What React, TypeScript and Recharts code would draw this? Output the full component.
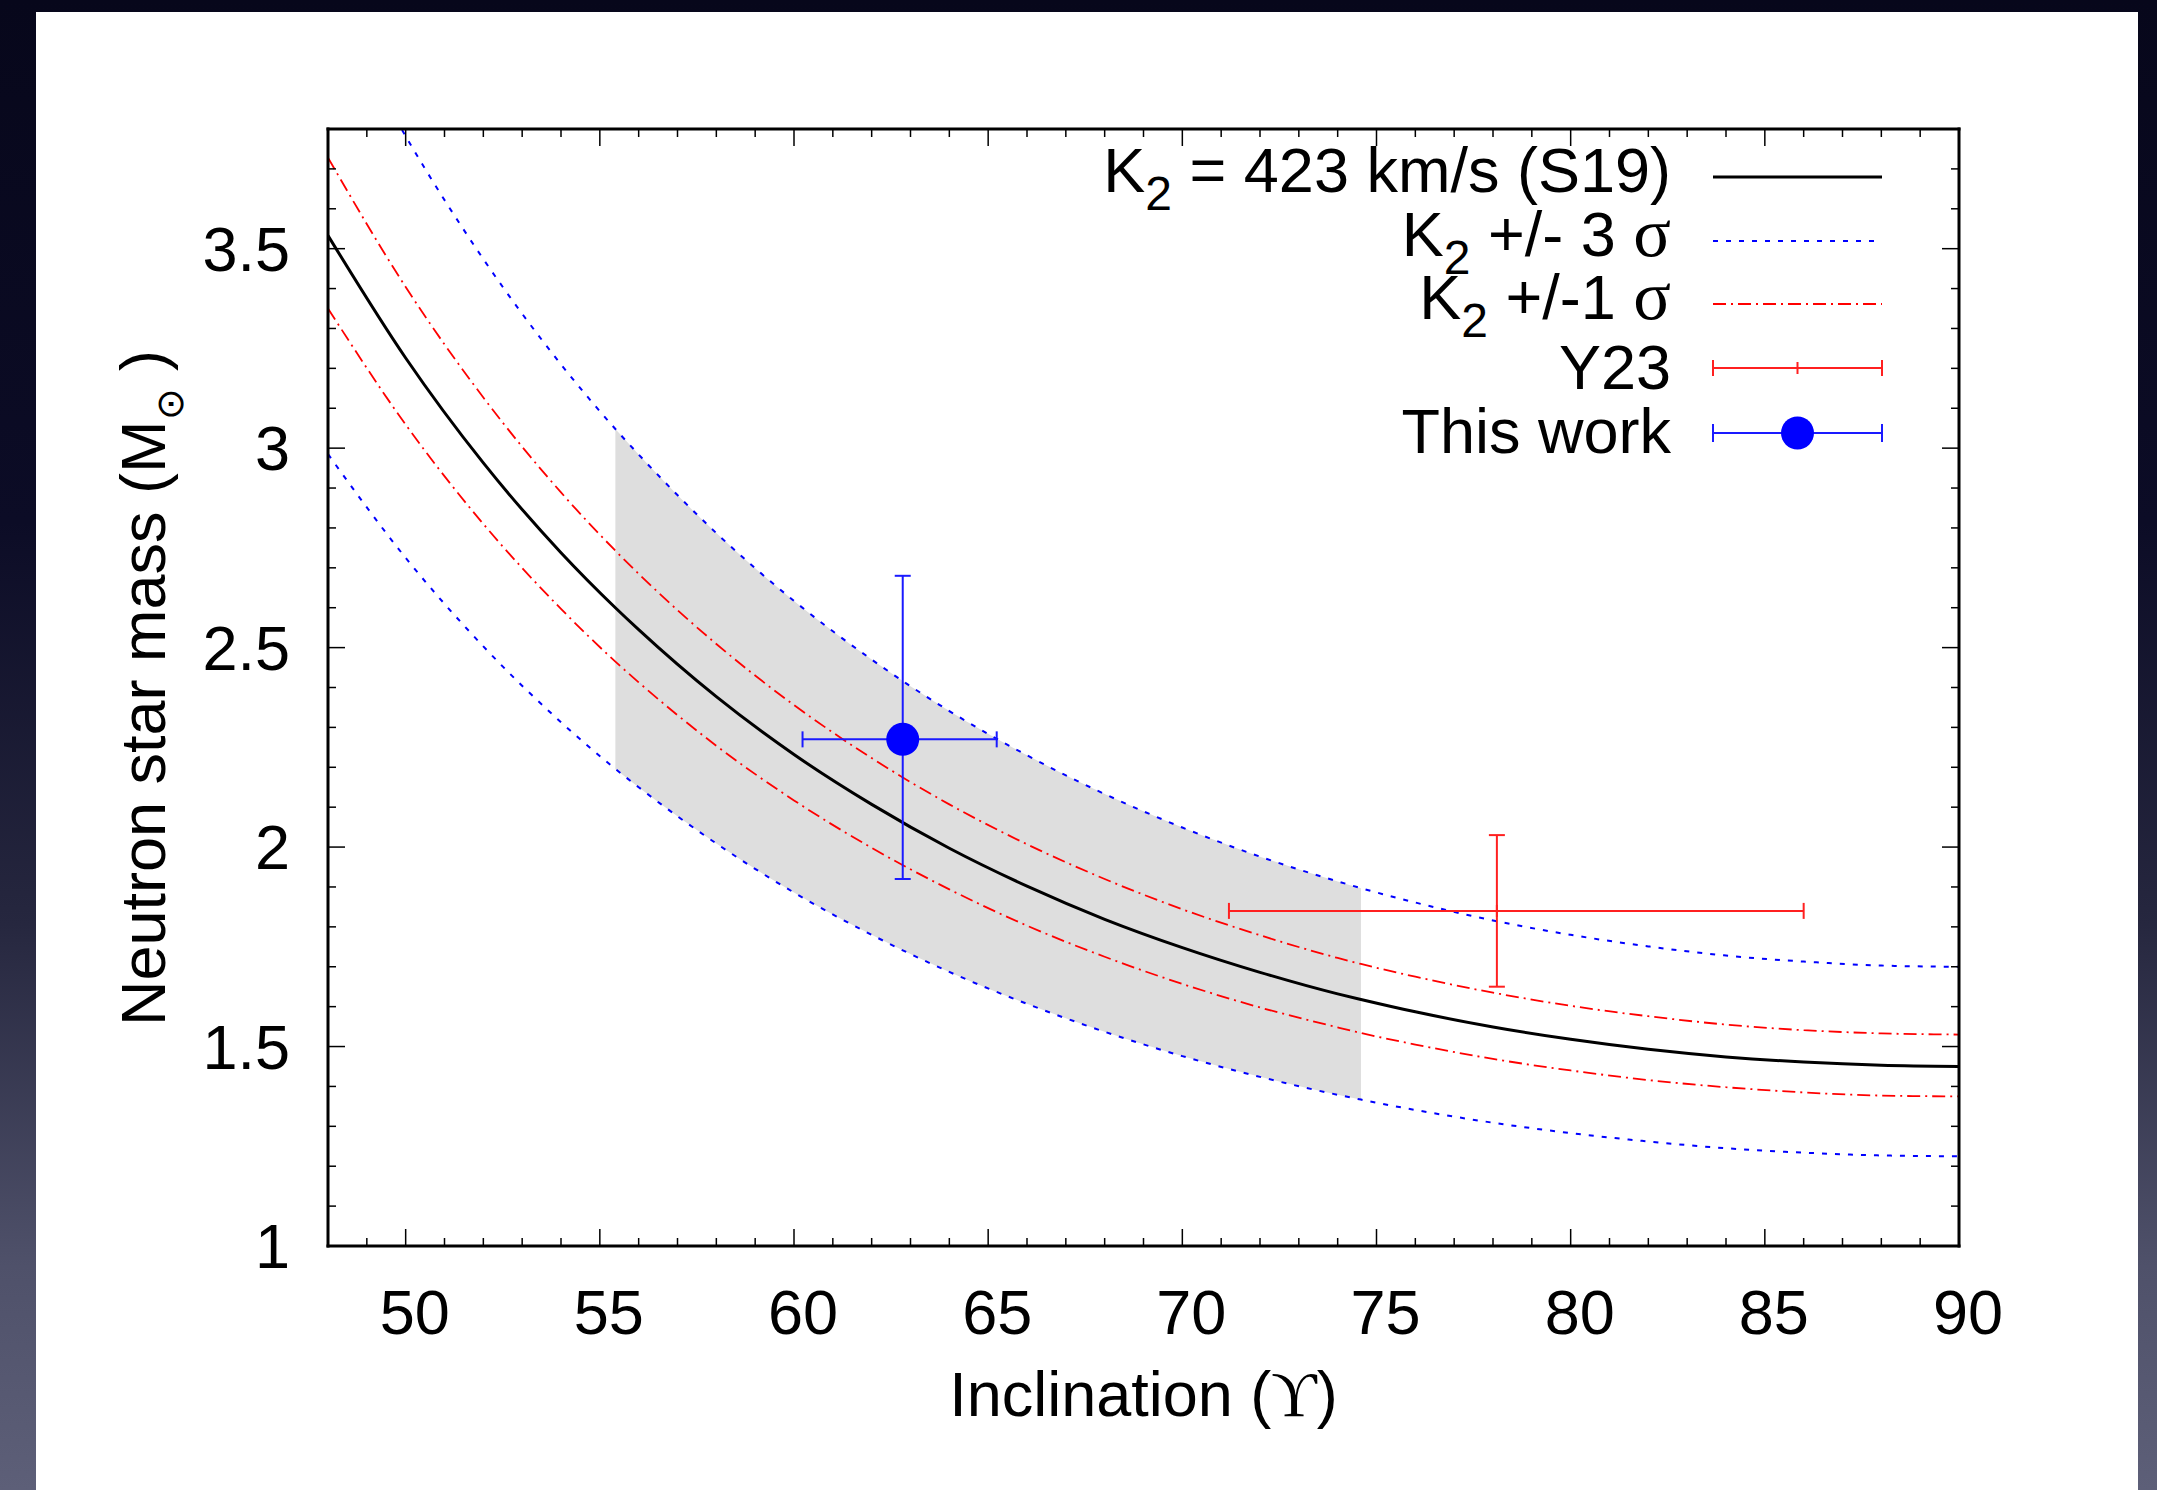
import React from 'react';
import { ComposedChart, Line, Area, Scatter, XAxis, YAxis, ErrorBar, Legend } from 'recharts';

const FONT = '"Liberation Sans", Arial, Helvetica, sans-serif';
const SERIF = '"Liberation Serif", "DejaVu Serif", serif';
const FS = 63;

// Inclination grid (degrees)
const INCLINATION = [48, 50, 52, 54, 55.4, 56, 58, 60, 62, 64, 66, 68, 70, 72, 74, 74.6, 76, 78, 80, 82, 84, 86, 88, 90];
// K2 = 423 km/s (S19)
const MASS_K2 = [3.533, 3.226, 2.963, 2.738, 2.6, 2.545, 2.377, 2.232, 2.107, 1.997, 1.902, 1.819, 1.748, 1.686, 1.632, 1.618, 1.587, 1.549, 1.518, 1.493, 1.474, 1.461, 1.453, 1.45];
// K2 + 3 sigma
const MASS_P3 = [4.142, 3.782, 3.474, 3.21, 3.048, 2.984, 2.787, 2.617, 2.47, 2.341, 2.23, 2.133, 2.049, 1.976, 1.914, 1.897, 1.861, 1.816, 1.78, 1.751, 1.728, 1.713, 1.703, 1.7];
// K2 + 1 sigma
const MASS_P1 = [3.728, 3.404, 3.127, 2.889, 2.743, 2.685, 2.509, 2.356, 2.223, 2.107, 2.007, 1.92, 1.844, 1.779, 1.722, 1.707, 1.675, 1.635, 1.602, 1.576, 1.555, 1.541, 1.533, 1.53];
// K2 - 1 sigma
const MASS_M1 = [3.35, 3.059, 2.81, 2.597, 2.465, 2.413, 2.254, 2.117, 1.998, 1.894, 1.803, 1.725, 1.657, 1.598, 1.548, 1.534, 1.505, 1.469, 1.44, 1.416, 1.398, 1.385, 1.377, 1.375];
// K2 - 3 sigma
const MASS_M3 = [2.985, 2.725, 2.503, 2.313, 2.196, 2.15, 2.009, 1.886, 1.78, 1.687, 1.607, 1.537, 1.476, 1.424, 1.379, 1.367, 1.341, 1.309, 1.283, 1.262, 1.245, 1.234, 1.227, 1.225];

// shaded inclination range
const BAND_FROM = 55.4;
const BAND_TO = 74.6;

// measurements with asymmetric errors [minus, plus]
const THIS_WORK = [{ inc: 62.8, mass: 2.27, incErr: [2.58, 2.42], massErr: [0.35, 0.41] }];
const Y23 = [{ inc: 78.1, mass: 1.84, incErr: [6.9, 7.9], massErr: [0.19, 0.19] }];

const X_TICKS = [48, 49, 50, 51, 52, 53, 54, 55, 56, 57, 58, 59, 60, 61, 62, 63, 64, 65, 66, 67, 68, 69, 70, 71, 72, 73, 74, 75, 76, 77, 78, 79, 80, 81, 82, 83, 84, 85, 86, 87, 88, 89, 90];
const X_LABELS = [50, 55, 60, 65, 70, 75, 80, 85, 90];
const Y_TICKS = [1, 1.1, 1.2, 1.3, 1.4, 1.5, 1.6, 1.7, 1.8, 1.9, 2, 2.1, 2.2, 2.3, 2.4, 2.5, 2.6, 2.7, 2.8, 2.9, 3, 3.1, 3.2, 3.3, 3.4, 3.5, 3.6, 3.7, 3.8];
const Y_LABELS = [1, 1.5, 2, 2.5, 3, 3.5];

const ROWS = INCLINATION.map((inc, i) => ({
  inc,
  k2: MASS_K2[i],
  p3: MASS_P3[i],
  p1: MASS_P1[i],
  m1: MASS_M1[i],
  m3: MASS_M3[i],
  band: inc >= BAND_FROM && inc <= BAND_TO ? [MASS_M3[i], MASS_P3[i]] : null,
}));

const isXMajor = (v: number) => X_LABELS.some((l) => Math.abs(l - v) < 1e-6);
const isYMajor = (v: number) => Y_LABELS.some((l) => Math.abs(l - v) < 1e-6);

const MAJ = 17;
const MIN = 8;
const TICK_W = 1.5;

const BottomTick = (props: any) => {
  const { x, y, payload } = props;
  const v = payload.value;
  const major = isXMajor(v);
  return (
    <g>
      <line x1={x} x2={x} y1={y} y2={y - (major ? MAJ : MIN)} stroke="#000" strokeWidth={TICK_W} />
      {major && (
        <text x={x + 9} y={y + 88} textAnchor="middle" fontFamily={FONT} fontSize={FS} fill="#000">
          {String(v)}
        </text>
      )}
    </g>
  );
};

const TopTick = (props: any) => {
  const { x, y, payload } = props;
  const major = isXMajor(payload.value);
  return <line x1={x} x2={x} y1={y} y2={y + (major ? MAJ : MIN)} stroke="#000" strokeWidth={TICK_W} />;
};

const LeftTick = (props: any) => {
  const { x, y, payload } = props;
  const v = payload.value;
  const major = isYMajor(v);
  return (
    <g>
      <line x1={x} x2={x + (major ? MAJ : MIN)} y1={y} y2={y} stroke="#000" strokeWidth={TICK_W} />
      {major && (
        <text x={x - 38} y={y + 22} textAnchor="end" fontFamily={FONT} fontSize={FS} fill="#000">
          {String(v)}
        </text>
      )}
    </g>
  );
};

const RightTick = (props: any) => {
  const { x, y, payload } = props;
  const major = isYMajor(payload.value);
  return <line x1={x} x2={x - (major ? MAJ : MIN)} y1={y} y2={y} stroke="#000" strokeWidth={TICK_W} />;
};

const XTitle = (props: any) => {
  const vb = props && props.viewBox && props.viewBox.width ? props.viewBox : { x: 328, y: 1246, width: 1631, height: 1 };
  const cx = vb.x + vb.width / 2;
  const y = 1246 + 170;
  return (
    <text x={cx} y={y} textAnchor="middle" fontFamily={FONT} fontSize={FS} fill="#000">
      {'Inclination ('}
      <tspan fontFamily={SERIF}>{'\u03D2'}</tspan>
      {')'}
    </text>
  );
};

const YTitle = (props: any) => {
  const cx = 165;
  const cy = 688;
  return (
    <text
      x={cx}
      y={cy}
      transform={`rotate(-90 ${cx} ${cy})`}
      textAnchor="middle"
      fontFamily={FONT}
      fontSize={FS}
      fill="#000"
    >
      {'Neutron star mass (M'}
      <tspan dy={18} fontSize={38}>{'\u2299'}</tspan>
      <tspan dy={-18}>{' )'}</tspan>
    </text>
  );
};

const DotShape = (props: any) => <circle cx={props.cx} cy={props.cy} r={16.5} fill="#0000ff" />;
const PlusShape = (props: any) => (
  <g stroke="#ff2020" strokeWidth={2}>
    <line x1={props.cx} x2={props.cx} y1={props.cy - 6} y2={props.cy + 6} />
  </g>
);

const LEG_L = 1000;
const LEG_T = 100;

const LegendBox = () => {
  const tx = 1671 - LEG_L;
  const x1 = 1713 - LEG_L;
  const x2 = 1882 - LEG_L;
  const xc = (x1 + x2) / 2;
  const base = [192, 256, 319, 389, 453].map((v) => v - LEG_T);
  const ly = [177, 241, 304, 368, 433].map((v) => v - LEG_T);
  return (
    <svg width={1000} height={420} style={{ display: 'block', overflow: 'visible' }}>
      <g fontFamily={FONT} fontSize={FS} fill="#000">
        <text x={tx} y={base[0]} textAnchor="end">
          {'K'}
          <tspan dy={18} fontSize={48}>2</tspan>
          <tspan dy={-18}>{' = 423 km/s (S19)'}</tspan>
        </text>
        <text x={tx} y={base[1]} textAnchor="end">
          {'K'}
          <tspan dy={18} fontSize={48}>2</tspan>
          <tspan dy={-18}>{' +/- 3 '}</tspan>
          <tspan fontFamily={SERIF} fontSize={70}>{'\u03C3'}</tspan>
        </text>
        <text x={tx} y={base[2]} textAnchor="end">
          {'K'}
          <tspan dy={18} fontSize={48}>2</tspan>
          <tspan dy={-18}>{' +/-1 '}</tspan>
          <tspan fontFamily={SERIF} fontSize={70}>{'\u03C3'}</tspan>
        </text>
        <text x={tx} y={base[3]} textAnchor="end">Y23</text>
        <text x={tx} y={base[4]} textAnchor="end">This work</text>
      </g>
      <line x1={x1} x2={x2} y1={ly[0]} y2={ly[0]} stroke="#000" strokeWidth={3} />
      <line x1={x1} x2={x2} y1={ly[1]} y2={ly[1]} stroke="#0000ff" strokeWidth={2} strokeDasharray="5 8" />
      <line x1={x1} x2={x2} y1={ly[2]} y2={ly[2]} stroke="#ff0000" strokeWidth={1.8} strokeDasharray="13 5 2 5" />
      <g stroke="#ff2020" strokeWidth={2}>
        <line x1={x1} x2={x2} y1={ly[3]} y2={ly[3]} />
        <line x1={x1} x2={x1} y1={ly[3] - 8} y2={ly[3] + 8} />
        <line x1={x2} x2={x2} y1={ly[3] - 8} y2={ly[3] + 8} />
        <line x1={xc} x2={xc} y1={ly[3] - 6} y2={ly[3] + 6} />
      </g>
      <g stroke="#1a1aff" strokeWidth={2}>
        <line x1={x1} x2={x2} y1={ly[4]} y2={ly[4]} />
        <line x1={x1} x2={x1} y1={ly[4] - 9} y2={ly[4] + 9} />
        <line x1={x2} x2={x2} y1={ly[4] - 9} y2={ly[4] + 9} />
      </g>
      <circle cx={xc} cy={ly[4]} r={16.5} fill="#0000ff" />
    </svg>
  );
};

const AXIS_LINE = { stroke: '#000', strokeWidth: 3, strokeLinecap: 'square' as const };

export default function App() {
  return (
    <div
      style={{
        position: 'absolute',
        left: 0,
        top: 0,
        width: 2157,
        height: 1490,
        overflow: 'hidden',
        background: 'linear-gradient(180deg, #07071b 0%, #0c0c26 35%, #26273f 62%, #4f516a 85%, #5d5f78 100%)',
      }}
    >
      <div style={{ position: 'absolute', left: 36, top: 12, width: 2102, height: 1478, background: '#ffffff' }} />
      <div style={{ position: 'absolute', left: 0, top: 0 }}>
        <ComposedChart
          width={2157}
          height={1490}
          data={ROWS}
          margin={{ top: 128, right: 197, bottom: 243, left: 327 }}
        >
          <XAxis
            dataKey="inc"
            type="number"
            domain={[48, 90]}
            ticks={X_TICKS}
            interval={0}
            allowDataOverflow
            height={1}
            tickSize={0}
            tickMargin={0}
            tickLine={false}
            axisLine={AXIS_LINE}
            tick={BottomTick}
            label={XTitle}
          />
          <XAxis
            xAxisId="top"
            orientation="top"
            dataKey="inc"
            type="number"
            domain={[48, 90]}
            ticks={X_TICKS}
            interval={0}
            allowDataOverflow
            height={1}
            tickSize={0}
            tickMargin={0}
            tickLine={false}
            axisLine={AXIS_LINE}
            tick={TopTick}
          />
          <YAxis
            type="number"
            domain={[1, 3.8]}
            ticks={Y_TICKS}
            interval={0}
            allowDataOverflow
            width={1}
            tickSize={0}
            tickMargin={0}
            tickLine={false}
            axisLine={AXIS_LINE}
            tick={LeftTick}
            label={YTitle}
          />
          <YAxis
            yAxisId="right"
            orientation="right"
            type="number"
            domain={[1, 3.8]}
            ticks={Y_TICKS}
            interval={0}
            allowDataOverflow
            width={1}
            tickSize={0}
            tickMargin={0}
            tickLine={false}
            axisLine={AXIS_LINE}
            tick={RightTick}
          />
          <Area
            dataKey="band"
            type="monotone"
            fill="#dedede"
            fillOpacity={1}
            stroke="none"
            isAnimationActive={false}
            activeDot={false}
            dot={false}
          />
          <Line dataKey="p3" type="monotone" stroke="#0000ff" strokeWidth={2} strokeDasharray="5 8" dot={false} activeDot={false} isAnimationActive={false} />
          <Line dataKey="m3" type="monotone" stroke="#0000ff" strokeWidth={2} strokeDasharray="5 8" dot={false} activeDot={false} isAnimationActive={false} />
          <Line dataKey="p1" type="monotone" stroke="#ff0000" strokeWidth={1.8} strokeDasharray="13 5 2 5" dot={false} activeDot={false} isAnimationActive={false} />
          <Line dataKey="m1" type="monotone" stroke="#ff0000" strokeWidth={1.8} strokeDasharray="13 5 2 5" dot={false} activeDot={false} isAnimationActive={false} />
          <Line dataKey="k2" type="monotone" stroke="#000000" strokeWidth={3} dot={false} activeDot={false} isAnimationActive={false} />
          <Scatter data={Y23} dataKey="mass" shape={PlusShape} isAnimationActive={false}>
            <ErrorBar dataKey="incErr" direction="x" width={8} stroke="#ff2020" strokeWidth={2} isAnimationActive={false} />
            <ErrorBar dataKey="massErr" direction="y" width={8} stroke="#ff2020" strokeWidth={2} isAnimationActive={false} />
          </Scatter>
          <Scatter data={THIS_WORK} dataKey="mass" shape={DotShape} isAnimationActive={false}>
            <ErrorBar dataKey="incErr" direction="x" width={8} stroke="#1a1aff" strokeWidth={2} isAnimationActive={false} />
            <ErrorBar dataKey="massErr" direction="y" width={8} stroke="#1a1aff" strokeWidth={2} isAnimationActive={false} />
          </Scatter>
          <Legend
            layout="horizontal"
            verticalAlign="middle"
            align="center"
            content={LegendBox}
            wrapperStyle={{ position: 'absolute', left: LEG_L, top: LEG_T, width: 1000, height: 420 }}
          />
        </ComposedChart>
      </div>
    </div>
  );
}
